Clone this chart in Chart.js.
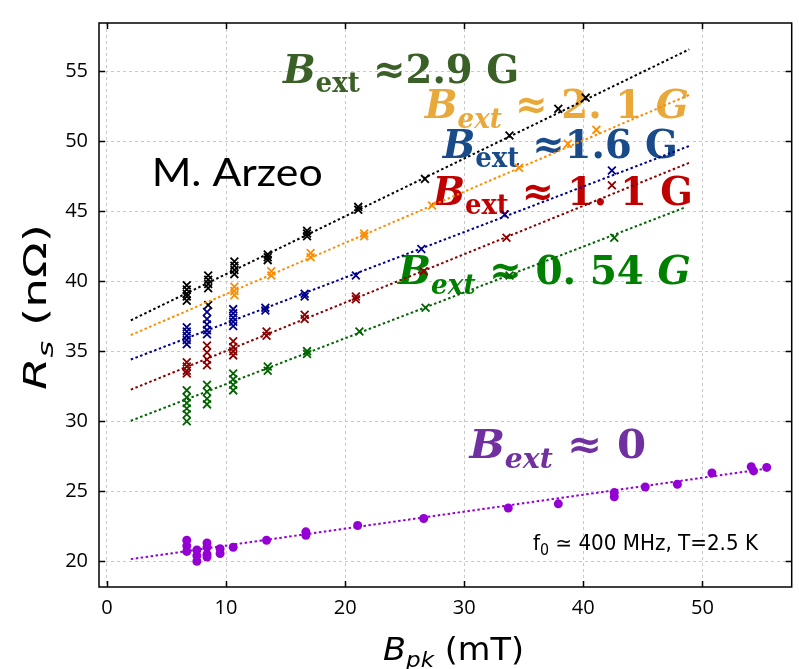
<!DOCTYPE html>
<html>
<head>
<meta charset="utf-8">
<script src="https://cdn.jsdelivr.net/npm/chart.js@4.4.0/dist/chart.umd.min.js"></script>
<style>
  html, body { margin: 0; padding: 0; background: #fff; }
</style>
</head>
<body>
<canvas id="rs-chart" width="799" height="669"></canvas>
<script>
// ---------------------------------------------------------------- data
// B_pk (mT) / R_s (nOhm)
const xTicks = [0, 10, 20, 30, 40, 50];
const yTicks = [20, 25, 30, 35, 40, 45, 50, 55];

// B_ext ~ 2.9 G
const blackB  = [6.7, 6.7, 6.7, 6.7, 6.7, 8.5, 8.5, 8.5, 8.5, 8.5, 10.7, 10.7, 10.7, 10.7, 13.5, 13.5, 13.5, 16.8, 16.8, 16.8, 21.1, 21.1, 26.7, 33.8, 37.9, 40.2];
const blackRs = [39.7, 39.4, 39.1, 38.9, 38.6, 40.4, 40.1, 39.8, 39.5, 38.3, 41.4, 41.1, 40.8, 40.5, 41.9, 41.7, 41.5, 43.6, 43.4, 43.2, 45.3, 45.1, 47.3, 50.4, 52.3, 53.1];
// B_ext ~ 2.1 G
const orangeB  = [10.7, 10.7, 10.7, 13.8, 13.8, 17.1, 17.1, 21.6, 21.6, 27.3, 34.6, 38.7, 41.1];
const orangeRs = [39.6, 39.3, 39.0, 40.7, 40.4, 42.0, 41.7, 43.4, 43.2, 45.4, 48.1, 49.8, 50.8];
// B_ext ~ 1.6 G
const blueB  = [6.7, 6.7, 6.7, 6.7, 6.7, 8.4, 8.4, 8.4, 8.4, 8.4, 10.6, 10.6, 10.6, 10.6, 10.6, 13.3, 13.3, 16.6, 16.6, 20.9, 26.4, 33.4, 42.4];
const blueRs = [36.7, 36.4, 36.1, 35.8, 35.5, 37.8, 37.3, 36.9, 36.5, 36.2, 38.0, 37.7, 37.4, 37.1, 36.8, 38.1, 37.9, 39.1, 38.9, 40.4, 42.3, 44.75, 47.9];
// B_ext ~ 1.1 G
const redB  = [6.7, 6.7, 6.7, 6.7, 8.4, 8.4, 8.4, 8.4, 10.6, 10.6, 10.6, 10.6, 13.4, 13.4, 16.6, 16.6, 20.9, 20.9, 26.6, 33.55, 42.4];
const redRs = [34.2, 33.9, 33.6, 33.4, 35.4, 34.9, 34.4, 34.0, 35.7, 35.3, 35.0, 34.7, 36.4, 36.1, 37.6, 37.3, 38.9, 38.7, 40.7, 43.1, 46.85];
// B_ext ~ 0.54 G
const greenB  = [6.7, 6.7, 6.7, 6.7, 6.7, 6.7, 8.4, 8.4, 8.4, 8.4, 10.6, 10.6, 10.6, 10.6, 13.5, 13.5, 16.8, 16.8, 21.2, 26.75, 33.8, 42.6];
const greenRs = [32.2, 31.7, 31.3, 30.9, 30.5, 30.0, 32.6, 32.1, 31.6, 31.2, 33.4, 33.0, 32.6, 32.2, 33.9, 33.6, 35.0, 34.8, 36.4, 38.1, 40.4, 43.1];
// B_ext ~ 0
const purpleB  = [6.7, 6.7, 6.7, 7.55, 7.55, 7.55, 8.4, 8.4, 8.4, 8.4, 9.5, 9.5, 10.6, 13.4, 16.7, 16.7, 21.05, 26.6, 33.7, 37.9, 42.6, 42.6, 45.2, 47.9, 50.8, 54.1, 54.3, 55.4];
const purpleRs = [21.5, 21.1, 20.7, 20.8, 20.4, 20.0, 21.3, 21.0, 20.5, 20.3, 20.9, 20.55, 21.0, 21.5, 22.1, 21.85, 22.55, 23.05, 23.8, 24.1, 24.9, 24.6, 25.3, 25.5, 26.3, 26.75, 26.45, 26.7];

// linear fits (end points)
const fitB      = [2, 48.9];
const fitBlack  = [37.2, 56.55];
const fitOrange = [36.15, 53.3];
const fitBlue   = [34.4, 49.65];
const fitRed    = [32.25, 48.45];
const fitGreenB = [2, 48.6];
const fitGreen  = [30.03, 45.28];
const fitPurpleB = [2, 55.7];
const fitPurple  = [20.15, 26.65];

// ---------------------------------------------------------------- helpers
function pts(xs, ys) {
  return xs.map((x, i) => ({ x: x, y: ys[i] }));
}

function fitLine(xs, ys, color) {
  return {
    data: pts(xs, ys),
    showLine: true,
    borderColor: color,
    borderWidth: 2,
    borderDash: [2.5, 2.5],
    pointRadius: 0,
    fill: false
  };
}

function marks(xs, ys, color, style, radius) {
  return {
    data: pts(xs, ys),
    showLine: false,
    pointStyle: style,
    pointRadius: radius,
    pointBorderColor: color,
    pointBackgroundColor: color,
    pointBorderWidth: style === 'circle' ? 0 : 1.8
  };
}

// draw text runs (italic / subscripts) squeezed or stretched to a given width
function drawRich(ctx, x, y, runs, color, width, angle) {
  ctx.save();
  let natural = 0;
  runs.forEach(r => { ctx.font = r.font; natural += ctx.measureText(r.t).width; });
  ctx.translate(x, y);
  if (angle) ctx.rotate(angle);
  ctx.scale(width / natural, 1);
  ctx.fillStyle = color;
  ctx.textAlign = 'left';
  ctx.textBaseline = 'alphabetic';
  let cx = 0;
  runs.forEach(r => {
    ctx.font = r.font;
    ctx.fillText(r.t, cx, r.dy || 0);
    cx += ctx.measureText(r.t).width;
  });
  ctx.restore();
}

const SERIF = '"DejaVu Serif"';
const BI = 'bold italic 40px ' + SERIF;
const BU = 'bold 40px ' + SERIF;
const SI = 'bold italic 27px ' + SERIF;
const SU = 'bold 27px ' + SERIF;

// annotations: anchor (x, y) and right end in data units
const notes = [
  { x: 14.78, y: 54.16, xEnd: 34.61, color: '#3b6027',
    runs: [{ t: 'B', font: BI }, { t: 'ext', font: SU, dy: 9 }, { t: ' \u22482.9 G', font: BU }] },
  { x: 26.69, y: 51.64, xEnd: 48.86, color: '#e9a93a',
    runs: [{ t: 'B', font: BI }, { t: 'ext', font: SI, dy: 10 }, { t: ' \u2248 2. 1 ', font: BU }, { t: 'G', font: BI }] },
  { x: 28.19, y: 48.77, xEnd: 47.94, color: '#194b8b',
    runs: [{ t: 'B', font: BI }, { t: 'ext', font: SU, dy: 9 }, { t: ' \u22481.6 G', font: BU }] },
  { x: 27.36, y: 45.41, xEnd: 49.19, color: '#c00000',
    runs: [{ t: 'B', font: BI }, { t: 'ext', font: SU, dy: 9 }, { t: ' \u2248 1. 1 G', font: BU }] },
  { x: 24.44, y: 39.80, xEnd: 49.03, color: '#008000',
    runs: [{ t: 'B', font: BI }, { t: 'ext', font: SI, dy: 10 }, { t: ' \u2248 0. 54 ', font: BU }, { t: 'G', font: BI }] },
  { x: 30.44, y: 27.35, xEnd: 45.28, color: '#7030a0',
    runs: [{ t: 'B', font: BI }, { t: 'ext', font: SI, dy: 10 }, { t: ' \u2248 0', font: BU }] }
];

const annotations = {
  id: 'annotations',
  beforeDatasetsDraw(chart) {
    const { ctx, scales: { x, y } } = chart;
    notes.forEach(n => {
      const px = x.getPixelForValue(n.x);
      const w = x.getPixelForValue(n.xEnd) - px;
      drawRich(ctx, px, y.getPixelForValue(n.y), n.runs, n.color, w);
    });
    // author tag
    drawRich(ctx, x.getPixelForValue(3.75), y.getPixelForValue(46.8),
      [{ t: 'M. Arzeo', font: '38px Lato' }], '#000', 171);
    // conditions
    drawRich(ctx, 533, 550, [
      { t: 'f', font: '21px "DejaVu Sans"' },
      { t: '0', font: '15px "DejaVu Sans"', dy: 5 },
      { t: ' \u2243 400 MHz, T=2.5 K', font: '21px "DejaVu Sans"' }
    ], '#000', 225);
  },
  afterDraw(chart) {
    const { ctx, chartArea: a, scales: { x, y } } = chart;
    ctx.save();
    ctx.strokeStyle = '#000';
    ctx.lineWidth = 1.5;
    // inward ticks on all four sides
    ctx.beginPath();
    xTicks.forEach(v => {
      const p = Math.round(x.getPixelForValue(v)) + 0.5;
      ctx.moveTo(p, a.bottom); ctx.lineTo(p, a.bottom - 6);
      ctx.moveTo(p, a.top); ctx.lineTo(p, a.top + 6);
    });
    yTicks.forEach(v => {
      const p = Math.round(y.getPixelForValue(v)) + 0.5;
      ctx.moveTo(a.left, p); ctx.lineTo(a.left + 6, p);
      ctx.moveTo(a.right, p); ctx.lineTo(a.right - 6, p);
    });
    ctx.stroke();
    ctx.strokeRect(a.left, a.top, a.right - a.left, a.bottom - a.top);
    ctx.restore();
    // axis titles
    drawRich(ctx, 383, 660, [
      { t: 'B', font: 'italic 32px "DejaVu Sans"' },
      { t: 'pk', font: 'italic 22px "DejaVu Sans"', dy: 7 },
      { t: ' (mT)', font: '32px "DejaVu Sans"' }
    ], '#000', 141);
    drawRich(ctx, 46, 390, [
      { t: 'R', font: 'italic 32px "DejaVu Sans"' },
      { t: 's', font: 'italic 22px "DejaVu Sans"', dy: 7 },
      { t: ' (n\u03A9)', font: '32px "DejaVu Sans"' }
    ], '#000', 166, -Math.PI / 2);
  }
};

// ---------------------------------------------------------------- chart
const gridOpts = { color: '#c8c8c8', lineWidth: 1, drawTicks: false };
const tickFont = { family: 'Open Sans', size: 20 };

new Chart(document.getElementById('rs-chart'), {
  type: 'scatter',
  data: {
    datasets: [
      fitLine(fitB, fitBlack, '#000000'),
      fitLine(fitB, fitOrange, '#ff8c00'),
      fitLine(fitB, fitBlue, '#00008b'),
      fitLine(fitB, fitRed, '#8b0000'),
      fitLine(fitGreenB, fitGreen, '#006400'),
      fitLine(fitPurpleB, fitPurple, '#9400d3'),
      marks(greenB, greenRs, '#006400', 'crossRot', 5.5),
      marks(redB, redRs, '#8b0000', 'crossRot', 5.5),
      marks(blueB, blueRs, '#00008b', 'crossRot', 5.5),
      marks(orangeB, orangeRs, '#ff8c00', 'crossRot', 5.5),
      marks(blackB, blackRs, '#000000', 'crossRot', 5.5),
      marks(purpleB, purpleRs, '#9400d3', 'circle', 4.5)
    ]
  },
  options: {
    responsive: false,
    animation: false,
    layout: { padding: { top: 12, right: 2, left: 0, bottom: 0 } },
    plugins: { legend: { display: false }, tooltip: { enabled: false } },
    scales: {
      x: {
        type: 'linear',
        min: -0.67,
        max: 57.5,
        grid: gridOpts,
        border: { display: false, dash: [3, 3] },
        ticks: { font: tickFont, color: '#000', padding: 9, maxRotation: 0 },
        afterBuildTicks: s => { s.ticks = xTicks.map(v => ({ value: v })); },
        afterFit: s => { s.height = 82; }
      },
      y: {
        type: 'linear',
        min: 18.16,
        max: 58.43,
        grid: gridOpts,
        border: { display: false, dash: [3, 3] },
        ticks: { font: tickFont, color: '#000', padding: 11 },
        afterBuildTicks: s => { s.ticks = yTicks.map(v => ({ value: v })); },
        afterFit: s => { s.width = 99; }
      }
    }
  },
  plugins: [annotations]
});
</script>
</body>
</html>
